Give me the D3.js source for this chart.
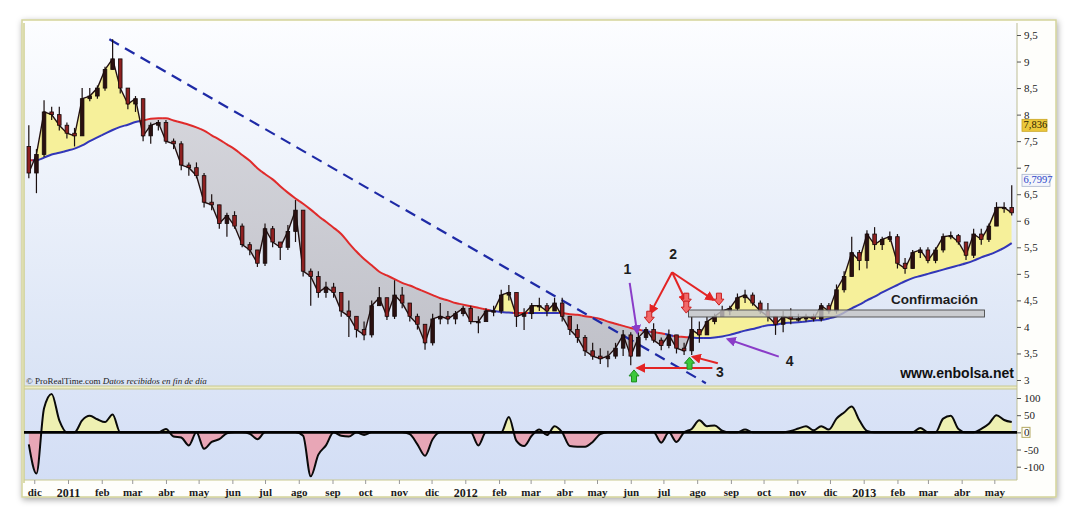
<!DOCTYPE html>
<html><head><meta charset="utf-8">
<script src="https://cdn.jsdelivr.net/npm/d3@7"></script>
<style>body{margin:0;background:#fff;}svg{display:block}</style>
</head><body><svg id="c" width="1080" height="518"></svg>
<script>
// ---------- DATA (weekly bars) ----------
const startDate = "2010-11-26";
const firstOpen = 7.4;
const closeVals = [
 6.9,7.25,8.05,8.0,7.8,7.65,7.6,8.3,8.35,8.5,
 8.85,9.05,8.5,8.2,8.3,7.6,7.8,7.85,7.5,7.45,
 7.05,7.0,6.85,6.35,6.3,5.95,6.1,5.9,5.55,5.45,
 5.2,5.85,5.6,5.5,5.8,6.2,5.05,4.95,4.65,4.75,
 4.65,4.3,4.2,3.95,3.85,4.4,4.55,4.2,4.6,4.45,
 4.2,4.05,3.7,4.15,4.2,4.15,4.25,4.35,4.1,4.1,
 4.3,4.3,4.6,4.65,4.2,4.25,4.4,4.4,4.3,4.45,
 4.2,3.95,3.8,3.55,3.45,3.4,3.45,3.6,3.85,3.45,
 3.8,3.95,3.75,3.65,3.85,3.6,3.55,3.95,3.85,4.1,
 4.2,4.3,4.35,4.55,4.6,4.45,4.3,4.2,4.05,4.2,
 4.15,4.15,4.2,4.15,4.4,4.3,4.7,4.95,5.4,5.25,
 5.75,5.55,5.65,5.7,5.2,5.1,5.4,5.45,5.25,5.45,
 5.7,5.72,5.6,5.35,5.75,5.65,5.9,6.25,6.25,6.15];
const highVals = [
 7.8,7.35,8.27,8.15,8.15,7.85,7.75,8.5,8.5,8.55,
 8.9,9.42,9.05,8.5,8.35,8.3,7.85,7.9,7.9,7.55,
 7.5,7.1,7.1,6.9,6.5,6.3,6.15,6.18,5.95,5.6,
 5.45,5.95,5.9,5.6,5.92,6.39,6.2,5.1,5.05,4.85,
 4.83,4.65,4.5,4.2,4.1,4.5,4.75,4.55,4.88,4.75,
 4.45,4.25,4.05,4.25,4.45,4.3,4.3,4.4,4.4,4.2,
 4.35,4.4,4.7,4.79,4.65,4.35,4.45,4.55,4.45,4.55,
 4.55,4.2,4.05,3.85,3.7,3.6,3.55,3.7,3.94,3.9,
 3.9,4.0,4.07,3.8,3.95,3.85,3.7,4.19,4.1,4.19,
 4.25,4.4,4.4,4.63,4.7,4.65,4.5,4.45,4.2,4.3,
 4.35,4.25,4.25,4.25,4.45,4.45,4.8,5.05,5.7,5.45,
 5.82,5.88,5.7,5.8,5.75,5.3,5.45,5.5,5.5,5.5,
 5.76,5.8,5.75,5.6,5.85,5.85,5.95,6.35,6.35,6.67];
const lowVals = [
 6.8,6.52,7.2,7.9,7.7,7.55,7.4,7.6,8.25,8.3,
 8.45,8.85,8.4,8.1,8.05,7.5,7.45,7.7,7.45,7.35,
 6.95,6.85,6.8,6.25,6.2,5.85,5.7,5.85,5.5,5.35,
 5.13,5.15,5.5,5.26,5.45,5.6,4.95,4.4,4.55,4.55,
 4.55,4.19,3.81,3.8,3.75,3.8,4.4,4.13,4.15,4.35,
 4.1,3.95,3.57,3.65,4.05,4.05,4.05,4.2,4.05,3.88,
 4.1,4.2,4.25,4.5,4.0,3.94,4.15,4.3,4.2,4.3,
 4.1,3.85,3.7,3.45,3.38,3.3,3.24,3.4,3.45,3.28,
 3.45,3.75,3.7,3.56,3.6,3.5,3.47,3.47,3.7,3.85,
 4.05,4.2,4.22,4.3,4.45,4.4,4.25,4.1,3.85,3.9,
 4.05,4.1,4.1,4.1,4.1,4.25,4.25,4.65,4.95,5.07,
 5.1,5.45,5.45,5.6,5.1,5.0,5.1,5.3,5.2,5.2,
 5.4,5.65,5.55,5.26,5.3,5.55,5.6,5.9,6.15,6.1];
const maVals = [
 7.14,7.14,7.19,7.25,7.28,7.32,7.36,7.42,7.50,7.57,
 7.64,7.71,7.77,7.81,7.86,7.89,7.92,7.93,7.93,7.89,
 7.85,7.81,7.76,7.70,7.61,7.53,7.44,7.35,7.24,7.13,
 6.99,6.88,6.78,6.65,6.53,6.42,6.32,6.21,6.09,5.98,
 5.87,5.75,5.58,5.42,5.28,5.16,5.04,4.97,4.90,4.83,
 4.78,4.72,4.66,4.60,4.54,4.50,4.45,4.42,4.39,4.36,
 4.33,4.30,4.28,4.27,4.26,4.26,4.26,4.26,4.26,4.26,
 4.26,4.24,4.23,4.20,4.18,4.15,4.10,4.06,4.02,3.98,
 3.95,3.92,3.90,3.88,3.85,3.82,3.81,3.80,3.79,3.79,
 3.80,3.82,3.85,3.89,3.93,3.96,4.00,4.03,4.04,4.07,
 4.08,4.09,4.10,4.12,4.13,4.16,4.20,4.27,4.35,4.42,
 4.50,4.57,4.65,4.72,4.79,4.86,4.92,4.96,5.00,5.04,
 5.08,5.12,5.16,5.20,5.25,5.31,5.36,5.42,5.49,5.58];
const oscVals = [
 -35,-120,70,112,35,0,0,35,48,38,
 30,52,0,0,0,0,0,0,10,-12,
 -15,-38,0,-48,-28,-20,-3,0,0,-4,
 -20,0,0,0,0,0,-10,-128,-65,-38,
 0,-10,-12,0,-8,0,0,0,0,0,
 -5,-35,-68,-20,0,0,0,0,0,-38,
 0,0,0,45,-25,-40,-10,8,-8,18,
 0,-40,-42,-42,-28,-5,0,0,0,0,
 0,0,0,-30,0,-28,0,10,35,18,
 20,5,0,0,8,0,0,0,0,0,
 4,11,18,6,18,8,40,58,75,35,
 4,0,0,0,0,0,0,13,0,0,
 40,48,10,0,0,10,25,50,36,30];
const priceTicks = [3,3.5,4,4.5,5,5.5,6,6.5,7,7.5,8,8.5,9,9.5];
const oscTicks = [100,50,0,-50,-100];
const monthLabels = ["dic","2011","feb","mar","abr","may","jun","jul","ago","sep","oct","nov",
 "dic","2012","feb","mar","abr","may","jun","jul","ago","sep","oct","nov",
 "dic","2013","feb","mar","abr","may"];
const trendLine = [["2011-02-08",9.42],["2012-08-09",2.94]];
const valueBoxes = [{v:7.836,t:"7,836",kind:"gold"},{v:6.7997,t:"6,7997",kind:"blue"}];
const annoLabels = [{t:"1",d:"2012-05-29",v:5.07},{t:"2",d:"2012-07-10",v:5.35},
 {t:"3",d:"2012-08-22",v:3.13},{t:"4",d:"2012-10-25",v:3.34}];
const redArrows = [
 [["2012-07-09",5.03],["2012-06-19",4.26]],
 [["2012-07-09",5.03],["2012-07-22",4.47]],
 [["2012-07-09",5.03],["2012-08-16",4.51]],
 [["2012-08-15",3.226],["2012-06-07",3.226]],
 [["2012-08-20",3.315],["2012-07-28",3.44]]];
const purpleArrows = [
 [["2012-05-31",4.83],["2012-06-07",3.885]],
 [["2012-10-15",3.44],["2012-08-29",3.77]]];
const downMarks = [["2012-06-18",4.07],["2012-07-22",4.41],["2012-07-22",4.26],["2012-08-21",4.41]];
const upMarks = [["2012-06-04",3.19],["2012-07-25",3.43]];
const confirmBox = {from:"2012-07-24",to:"2013-04-22",lo:4.187,hi:4.319};
const confirmText = {t:"Confirmación",d:"2013-03-07",v:4.49};

// ---------- LAYOUT ----------
const P = {left:24,right:1017,top:23,bottom:386,oTop:389,oBottom:480};
const parse = d3.timeParse("%Y-%m-%d");
const svg = d3.select("#c");
const x = d3.scaleTime().domain([new Date(2011,0,1),new Date(2013,0,1)]).range([68,863.7]);
const y = d3.scaleLinear().domain([3,9.5]).range([380,35]);
const yo = d3.scaleLinear().domain([-100,100]).range([466.7,398]);
const start = parse(startDate);
const bars = closeVals.map((c,i)=>({date:d3.timeDay.offset(start,7*i),close:c,high:highVals[i],low:lowVals[i],
  open:i?closeVals[i-1]:firstOpen,ma:maVals[i],osc:oscVals[i]}));
const step = x(bars[1].date)-x(bars[0].date);

const defs = svg.append("defs");
const f = defs.append("filter").attr("id","shadow").attr("x","-5%").attr("y","-5%").attr("width","110%").attr("height","115%");
f.append("feDropShadow").attr("dx",1).attr("dy",2).attr("stdDeviation",3).attr("flood-color","#000").attr("flood-opacity",0.35);
const gm = defs.append("linearGradient").attr("id","gMain").attr("x1",0).attr("y1",0).attr("x2",0).attr("y2",1);
gm.append("stop").attr("offset","0%").attr("stop-color","#fcfdff");
gm.append("stop").attr("offset","100%").attr("stop-color","#d9e3f5");
const go = defs.append("linearGradient").attr("id","gOsc").attr("x1",0).attr("y1",0).attr("x2",0).attr("y2",1);
go.append("stop").attr("offset","0%").attr("stop-color","#dbe4f7");
go.append("stop").attr("offset","100%").attr("stop-color","#d3def5");
const gg = defs.append("linearGradient").attr("id","gGray").attr("x1",0).attr("y1",0).attr("x2",0).attr("y2",1);
gg.append("stop").attr("offset","0%").attr("stop-color","#d6d6dc");
gg.append("stop").attr("offset","100%").attr("stop-color","#bdbdc4");

defs.append("clipPath").attr("id","clipMain").append("rect")
  .attr("x",P.left).attr("y",P.top).attr("width",P.right-P.left).attr("height",P.bottom-P.top);
defs.append("clipPath").attr("id","clipOsc").append("rect")
  .attr("x",P.left).attr("y",P.oTop).attr("width",P.right-P.left).attr("height",P.oBottom-P.oTop);

const curve = d3.curveMonotoneX;
const X = d=>x(d.date);
defs.append("clipPath").attr("id","aboveMA").append("path")
  .attr("d",d3.area().x(X).y0(P.top-60).y1(d=>y(d.ma))(bars));
defs.append("clipPath").attr("id","belowMA").append("path")
  .attr("d",d3.area().x(X).y0(d=>y(d.ma)).y1(P.bottom+60)(bars));
defs.append("clipPath").attr("id","oscPos").append("rect")
  .attr("x",P.left).attr("y",P.oTop).attr("width",P.right-P.left).attr("height",yo(0)-P.oTop);
defs.append("clipPath").attr("id","oscNeg").append("rect")
  .attr("x",P.left).attr("y",yo(0)).attr("width",P.right-P.left).attr("height",P.oBottom-yo(0));
// MA colour regions
const redClip = defs.append("clipPath").attr("id","maRed");
const blueClip = defs.append("clipPath").attr("id","maBlue");
bars.forEach((d,i)=>{
  const x0 = i===0 ? P.left-5 : X(d)-step/2, x1 = i===bars.length-1 ? P.right+5 : X(d)+step/2;
  (d.close < d.ma ? redClip : blueClip).append("rect").attr("x",x0).attr("y",0).attr("width",x1-x0+0.5).attr("height",518);
});
function marker(id,color){
  defs.append("marker").attr("id",id).attr("viewBox","0 0 10 10").attr("refX",8).attr("refY",5)
    .attr("markerWidth",10).attr("markerHeight",10).attr("markerUnits","userSpaceOnUse").attr("orient","auto")
    .append("path").attr("d","M0,0 L10,5 L0,10 z").attr("fill",color);
}
marker("arRed","#e32424"); marker("arPur","#8a3cc8");

// ---------- FRAME ----------
svg.append("rect").attr("x",22).attr("y",20).attr("width",1034).attr("height",477)
  .attr("fill","#fefefb").attr("stroke","#d3d39a").attr("stroke-width",1.5).attr("filter","url(#shadow)");
svg.append("rect").attr("x",P.left).attr("y",P.top).attr("width",P.right-P.left).attr("height",P.bottom-P.top).attr("fill","url(#gMain)");
svg.append("rect").attr("x",P.left).attr("y",P.oTop).attr("width",P.right-P.left).attr("height",P.oBottom-P.oTop).attr("fill","url(#gOsc)");
svg.append("rect").attr("x",P.left).attr("y",P.bottom).attr("width",P.right-P.left).attr("height",P.oTop-P.bottom).attr("fill","#ececc6");
svg.append("line").attr("x1",P.left).attr("x2",P.right).attr("y1",P.bottom).attr("y2",P.bottom).attr("stroke","#c8c890");
svg.append("line").attr("x1",P.left).attr("x2",P.right).attr("y1",P.oTop).attr("y2",P.oTop).attr("stroke","#c8c890");
svg.append("line").attr("x1",P.left).attr("x2",P.right).attr("y1",P.oBottom).attr("y2",P.oBottom).attr("stroke","#c8c890");
svg.append("line").attr("x1",P.right).attr("x2",P.right).attr("y1",P.top).attr("y2",P.oBottom).attr("stroke","#bdbd95");
svg.append("line").attr("x1",P.left).attr("x2",P.left).attr("y1",P.top).attr("y2",P.oBottom+3).attr("stroke","#cfcf90").attr("stroke-width",1.5);

// ---------- MAIN PANEL ----------
const gMain = svg.append("g").attr("clip-path","url(#clipMain)");
const fillArea = d3.area().x(X).y0(d=>y(d.ma)).y1(d=>y(d.close));
gMain.append("g").attr("clip-path","url(#aboveMA)").append("path").attr("d",fillArea(bars)).attr("fill","#f6f09a");
gMain.append("g").attr("clip-path","url(#belowMA)").append("path").attr("d",fillArea(bars)).attr("fill","url(#gGray)").attr("opacity",0.9);

const maLine = d3.line().curve(curve).x(X).y(d=>y(d.ma));
gMain.append("g").attr("clip-path","url(#maRed)").append("path").attr("d",maLine(bars))
  .attr("fill","none").attr("stroke","#e02a2a").attr("stroke-width",2);
gMain.append("g").attr("clip-path","url(#maBlue)").append("path").attr("d",maLine(bars))
  .attr("fill","none").attr("stroke","#3236b8").attr("stroke-width",2);

// trend line
const tl = trendLine.map(p=>[x(parse(p[0])),y(p[1])]);
gMain.append("line").attr("x1",tl[0][0]).attr("y1",tl[0][1]).attr("x2",tl[1][0]).attr("y2",tl[1][1])
  .attr("stroke","#1e2aa6").attr("stroke-width",2.2).attr("stroke-dasharray","11,7");

// price trace + candles
const cg = gMain.append("g");
cg.append("path").attr("d",d3.line().x(X).y(d=>y(d.close))(bars))
  .attr("fill","none").attr("stroke","#231010").attr("stroke-width",1.4);
cg.selectAll("line.w").data(bars).join("line").attr("class","w")
  .attr("x1",X).attr("x2",X).attr("y1",d=>y(d.high)).attr("y2",d=>y(d.low))
  .attr("stroke","#1a0f0f").attr("stroke-width",1.2);
cg.selectAll("rect.b").data(bars).join("rect").attr("class","b")
  .attr("x",d=>X(d)-1.8).attr("width",3.6)
  .attr("y",d=>y(Math.max(d.open,d.close))).attr("height",d=>Math.max(1.2,Math.abs(y(d.open)-y(d.close))))
  .attr("fill",d=>d.close<d.open?"#8e2020":"#2a1010").attr("stroke","#140a0a").attr("stroke-width",0.8);

// confirmation box
gMain.append("rect").attr("x",x(parse(confirmBox.from))).attr("y",y(confirmBox.hi))
  .attr("width",x(parse(confirmBox.to))-x(parse(confirmBox.from))).attr("height",y(confirmBox.lo)-y(confirmBox.hi))
  .attr("fill","#c4c4c6").attr("fill-opacity",0.8).attr("stroke","#4a4a4a").attr("stroke-width",0.9);
svg.append("text").attr("x",x(parse(confirmText.d))).attr("y",y(confirmText.v)).attr("text-anchor","middle")
  .attr("dominant-baseline","middle").attr("font-family","Liberation Sans, Arial, sans-serif").attr("font-weight","bold")
  .attr("font-size",13.5).attr("fill","#1c1c1c").text(confirmText.t);

// annotation arrows
const ag = svg.append("g");
redArrows.forEach(a=>ag.append("line").attr("x1",x(parse(a[0][0]))).attr("y1",y(a[0][1]))
  .attr("x2",x(parse(a[1][0]))).attr("y2",y(a[1][1])).attr("stroke","#e32424").attr("stroke-width",2).attr("marker-end","url(#arRed)"));
purpleArrows.forEach(a=>ag.append("line").attr("x1",x(parse(a[0][0]))).attr("y1",y(a[0][1]))
  .attr("x2",x(parse(a[1][0]))).attr("y2",y(a[1][1])).attr("stroke","#8a3cc8").attr("stroke-width",2).attr("marker-end","url(#arPur)"));
const blockDown = "M0,0 L-5,-6 L-2.5,-6 L-2.5,-12 L2.5,-12 L2.5,-6 L5,-6 Z";
const blockUp = "M0,0 L-5,6 L-2.5,6 L-2.5,12 L2.5,12 L2.5,6 L5,6 Z";
downMarks.forEach(m=>ag.append("path").attr("d",blockDown).attr("transform",`translate(${x(parse(m[0]))},${y(m[1])})`)
  .attr("fill","#f26a6a").attr("stroke","#c81e1e").attr("stroke-width",1));
upMarks.forEach(m=>ag.append("path").attr("d",blockUp).attr("transform",`translate(${x(parse(m[0]))},${y(m[1])})`)
  .attr("fill","#3cc83c").attr("stroke","#1e8c1e").attr("stroke-width",1));
annoLabels.forEach(a=>ag.append("text").attr("x",x(parse(a.d))).attr("y",y(a.v)).attr("text-anchor","middle")
  .attr("dominant-baseline","middle").attr("font-family","Liberation Sans, Arial, sans-serif").attr("font-weight","bold")
  .attr("font-size",14).attr("fill","#1c1c1c").text(a.t));

// watermark texts
svg.append("text").attr("x",P.right-3).attr("y",P.bottom-8).attr("text-anchor","end")
  .attr("font-family","Liberation Sans, Arial, sans-serif").attr("font-weight","bold").attr("font-size",14)
  .attr("fill","#111").text("www.enbolsa.net");
const ct = svg.append("text").attr("x",P.left+2).attr("y",P.bottom-2.5).attr("font-family","Liberation Serif, Times New Roman, serif")
  .attr("font-size",9).attr("fill","#222");
ct.append("tspan").text("© ProRealTime.com  ");
ct.append("tspan").attr("font-style","italic").text("Datos recibidos en fin de día");

// ---------- OSCILLATOR ----------
const gO = svg.append("g").attr("clip-path","url(#clipOsc)");
const oArea = d3.area().curve(curve).x(X).y0(yo(0)).y1(d=>yo(d.osc));
gO.append("g").attr("clip-path","url(#oscPos)").append("path").attr("d",oArea(bars)).attr("fill","#eef0b2");
gO.append("g").attr("clip-path","url(#oscNeg)").append("path").attr("d",oArea(bars)).attr("fill","#e8a6b6");
gO.append("path").attr("d",d3.line().curve(curve).x(X).y(d=>yo(d.osc))(bars))
  .attr("fill","none").attr("stroke","#0a0a0a").attr("stroke-width",2);
svg.append("line").attr("x1",P.left).attr("x2",P.right).attr("y1",yo(0)).attr("y2",yo(0))
  .attr("stroke","#000").attr("stroke-width",2.6);

// ---------- AXES ----------
const serif = "Liberation Serif, Times New Roman, serif";
const fmt = v => String(v).replace(".",",");
const ya = svg.append("g").attr("transform",`translate(${P.right},0)`)
  .call(d3.axisRight(y).tickValues(priceTicks).tickFormat(fmt).tickSize(4).tickPadding(3));
ya.select(".domain").remove();
ya.selectAll("text").attr("font-family",serif).attr("font-size",11).attr("fill","#222");
ya.selectAll("line").attr("stroke","#555");
const oa = svg.append("g").attr("transform",`translate(${P.right},0)`)
  .call(d3.axisRight(yo).tickValues(oscTicks).tickFormat(d=>String(d)).tickSize(4).tickPadding(3));
oa.select(".domain").remove();
oa.selectAll("text").attr("font-family",serif).attr("font-size",11).attr("fill","#222");
oa.selectAll("line").attr("stroke","#555");
svg.append("rect").attr("x",P.right+5).attr("y",yo(0)-5).attr("width",8).attr("height",10)
  .attr("fill","none").attr("stroke","#b4a860").attr("stroke-width",1);

// value boxes on price axis
valueBoxes.forEach(b=>{
  const w = b.kind==="gold"?25:28, yy=y(b.v)+2;
  svg.append("rect").attr("x",P.right+5).attr("y",yy-6).attr("width",w).attr("height",12)
    .attr("fill",b.kind==="gold"?"#ecc83c":"#f4f6fb").attr("stroke",b.kind==="gold"?"#c9a420":"#a9b4cc").attr("stroke-width",0.8);
  svg.append("text").attr("x",P.right+6.5).attr("y",yy).attr("dominant-baseline","middle")
    .attr("font-family",serif).attr("font-size",10.5).attr("fill",b.kind==="gold"?"#2a2000":"#2b44c8").text(b.t);
});

// month axis
const months = d3.timeMonth.range(new Date(2010,11,1),new Date(2013,5,1));
const xa = svg.append("g").attr("transform",`translate(0,${P.oBottom})`)
  .call(d3.axisBottom(x).tickValues(months).tickFormat((d,i)=>monthLabels[i]).tickSize(4).tickPadding(4));
xa.select(".domain").remove();
xa.selectAll("line").attr("stroke","#999");
xa.selectAll("text").attr("font-family",serif).attr("font-weight","bold")
  .attr("font-size",(d,i)=>/^\d/.test(monthLabels[i])?12:11).attr("fill","#1a1a1a");
</script></body></html>
